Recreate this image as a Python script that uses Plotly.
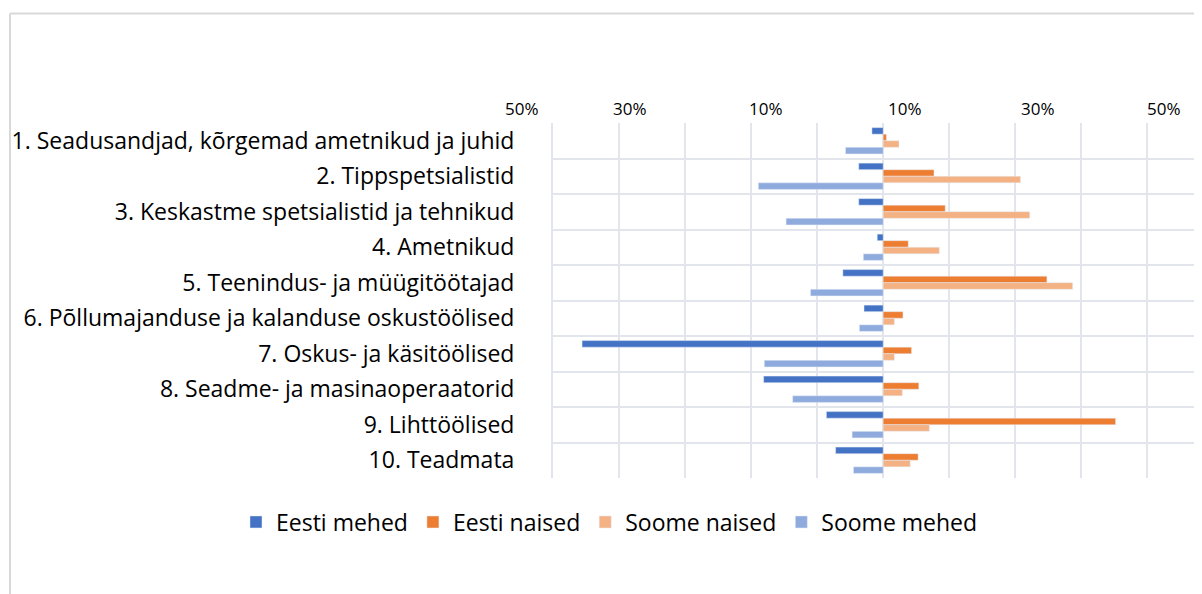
import plotly.graph_objects as go

categories = [
    "1. Seadusandjad, kõrgemad ametnikud ja juhid",
    "2. Tippspetsialistid",
    "3. Keskastme spetsialistid ja tehnikud",
    "4. Ametnikud",
    "5. Teenindus- ja müügitöötajad",
    "6. Põllumajanduse ja kalanduse oskustöölised",
    "7. Oskus- ja käsitöölised",
    "8. Seadme- ja masinaoperaatorid",
    "9. Lihttöölised",
    "10. Teadmata",
]

# percentages (men drawn to the left)
eesti_mehed = [1.7, 3.7, 3.7, 0.9, 6.1, 2.9, 45.6, 18.1, 8.6, 7.2]
eesti_naised = [0.5, 7.7, 9.4, 3.8, 24.8, 3.0, 4.3, 5.4, 35.2, 5.3]
soome_naised = [2.4, 20.8, 22.2, 8.5, 28.7, 1.7, 1.7, 2.9, 7.0, 4.1]
soome_mehed = [5.7, 18.9, 14.7, 3.0, 11.0, 3.6, 18.0, 13.7, 4.7, 4.5]

tick_labels = ["50%", "30%", "10%", "10%", "30%", "50%"]
tick_label_pos = [-54.3, -38.3, -17.7, 3.3, 23.4, 42.5]

FONT = "Open Sans"
XMIN, XMAX = -50, 49.5

fig = go.Figure()
fig.add_trace(go.Bar(name="Eesti mehed", y=categories, x=[-v for v in eesti_mehed],
                     orientation="h", marker_color="#4472C4"))
fig.add_trace(go.Bar(name="Eesti naised", y=categories, x=eesti_naised,
                     orientation="h", marker_color="#ED7D31"))
fig.add_trace(go.Bar(name="Soome naised", y=categories, x=soome_naised,
                     orientation="h", marker_color="#F4B183"))
fig.add_trace(go.Bar(name="Soome mehed", y=categories, x=[-v for v in soome_mehed],
                     orientation="h", marker_color="#8FAADC"))

grid = "#E2E6EC"
fig.update_layout(
    width=1202, height=594,
    margin=dict(l=545, r=0, t=115, b=124),
    paper_bgcolor="white", plot_bgcolor="white",
    barmode="group", bargap=0.26, bargroupgap=0,
    font=dict(family=FONT, color="#000000"),
    xaxis=dict(range=[XMIN, XMAX], dtick=10, tick0=0, showgrid=True, gridcolor=grid,
               gridwidth=2, zeroline=True, zerolinecolor=grid, zerolinewidth=2,
               showticklabels=False, showline=False, fixedrange=True),
    yaxis=dict(type="category", categoryorder="array", categoryarray=categories,
               autorange="reversed", tickson="boundaries", showgrid=True,
               gridcolor=grid, gridwidth=2, ticks="", ticklabelstandoff=32,
               tickfont=dict(size=23, family=FONT), showline=True,
               linecolor=grid, linewidth=2),
    legend=dict(orientation="h", x=-0.4825, xanchor="left",
                y=-0.124, yanchor="middle",
                font=dict(size=23, family=FONT), traceorder="normal"),
    showlegend=True,
)

for lab, pos in zip(tick_labels, tick_label_pos):
    if XMIN <= pos <= XMAX:
        fig.add_annotation(x=pos, xref="x", y=1, yref="paper",
                           yanchor="bottom", yshift=1, text=lab, showarrow=False,
                           font=dict(size=17, family=FONT, color="#000000"))
    else:
        fig.add_annotation(x=0, xref="paper", xanchor="right", xshift=-12, y=1, yref="paper",
                           yanchor="bottom", yshift=1, text=lab, showarrow=False,
                           font=dict(size=17, family=FONT, color="#000000"))

# chart container border
fig.add_shape(type="line", xref="paper", yref="paper", x0=-0.8265, x1=-0.8265,
              y0=-0.5, y1=1.3085, line=dict(color="#D9D9D9", width=2))
fig.add_shape(type="line", xref="paper", yref="paper", x0=-0.8265, x1=1.05,
              y0=1.3085, y1=1.3085, line=dict(color="#D9D9D9", width=2))

fig.write_html("out.html")
